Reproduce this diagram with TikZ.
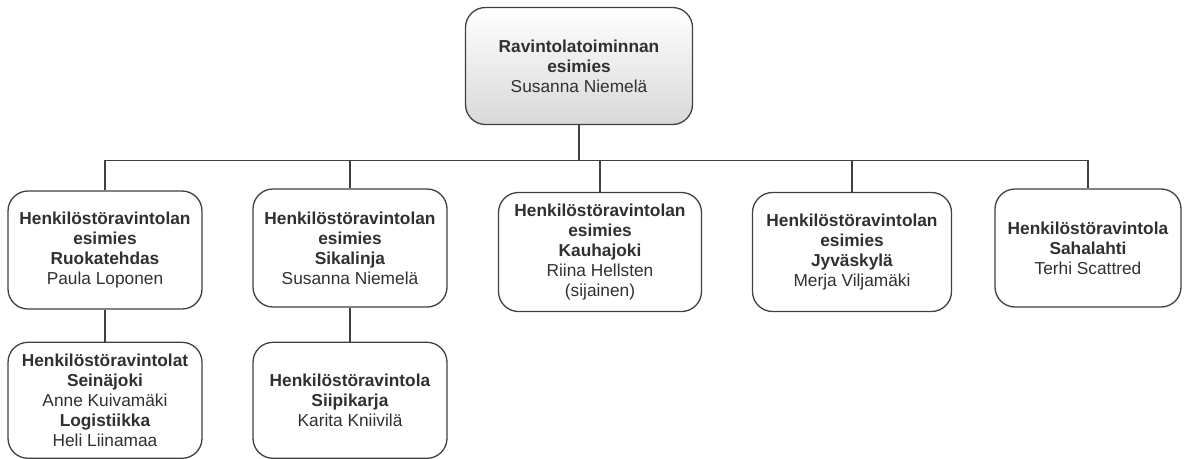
\documentclass[tikz,border=0pt]{standalone}
\usepackage{fontspec}
\setmainfont{Liberation Sans}
\usetikzlibrary{positioning}
\definecolor{boxline}{HTML}{404040}
\definecolor{txt}{HTML}{303030}
\tikzset{orgbox/.style={draw=boxline,line width=1.3pt,rounded corners=20pt,align=center,text=txt,inner sep=0pt,font=\fontsize{17.3}{20}\selectfont},
  conn/.style={draw=boxline,line width=1.3pt}}

\begin{document}
\begin{tikzpicture}[x=1pt,y=-1pt]
\useasboundingbox (0,0) rectangle (1186,458);

\node (top) at (579,66) [orgbox,minimum width=227pt,minimum height=117pt,top color=white,bottom color=black!15] {\textbf{Ravintolatoiminnan}\\\textbf{esimies}\\Susanna Niemelä};

\node (ruoka) at (105,250) [orgbox,minimum width=194pt,minimum height=118pt] {\textbf{Henkilöstöravintolan}\\\textbf{esimies}\\\textbf{Ruokatehdas}\\Paula Loponen};
\node (sika) at (350,248) [orgbox,minimum width=194pt,minimum height=118pt] {\textbf{Henkilöstöravintolan}\\\textbf{esimies}\\\textbf{Sikalinja}\\Susanna Niemelä};
\node (kauha) at (600,252) [orgbox,minimum width=203pt,minimum height=119pt] {\textbf{Henkilöstöravintolan}\\\textbf{esimies}\\\textbf{Kauhajoki}\\Riina Hellsten\\(sijainen)};
\node (jyva) at (852,252) [orgbox,minimum width=199pt,minimum height=119pt] {\textbf{Henkilöstöravintolan}\\\textbf{esimies}\\\textbf{Jyväskylä}\\Merja Viljamäki};
\node (saha) at (1088,248) [orgbox,minimum width=186pt,minimum height=118pt] {\textbf{Henkilöstöravintola}\\\textbf{Sahalahti}\\Terhi Scattred};

\node (sein) [below=32pt of ruoka,orgbox,minimum width=194pt,minimum height=116pt] {\textbf{Henkilöstöravintolat}\\\textbf{Seinäjoki}\\Anne Kuivamäki\\\textbf{Logistiikka}\\Heli Liinamaa};
\node (siipi) [below=34pt of sika,orgbox,minimum width=194pt,minimum height=116pt] {\textbf{Henkilöstöravintola}\\\textbf{Siipikarja}\\Karita Kniivilä};

% connectors
\path (top.south) ++(0,35) coordinate (bar);
\draw[conn] (top.south) -- (bar);
\foreach \n in {ruoka,sika,kauha,jyva,saha}
  \draw[conn] (\n.north) |- (bar);
\draw[conn] (ruoka) -- (sein);
\draw[conn] (sika) -- (siipi);
\end{tikzpicture}
\end{document}
